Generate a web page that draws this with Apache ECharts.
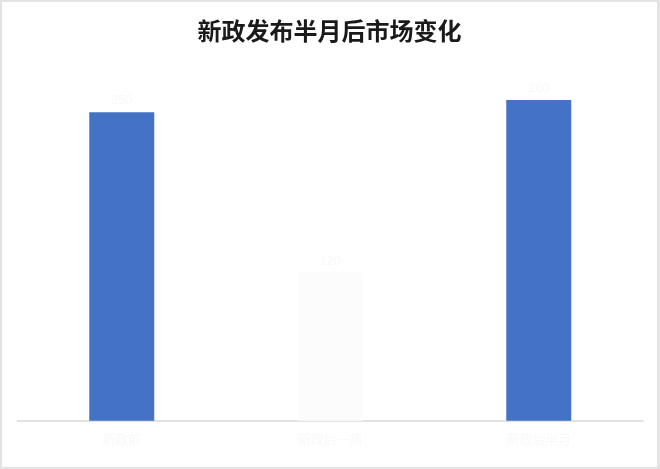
<!DOCTYPE html>
<html>
<head>
<meta charset="utf-8">
<script src="https://cdn.jsdelivr.net/npm/echarts@6/dist/echarts.min.js"></script>
<style>
	html, body { margin: 0; padding: 0; background: #fff; }
	#chart { width: 660px; height: 469px; box-sizing: border-box; border: 2px solid #e3e3e3; border-right-width: 3px; }
</style>
</head>
<body>
<div id="chart"></div>
<script>
	// 标签在原图中已被抹白，这里用浅色占位
	var categories = ['新政前', '新政后一周', '新政后半月'];
	var values = [250, 120, 260];
	var barColors = ['#4472C4', '#fcfcfc', '#4472C4'];

	var chart = echarts.init(document.getElementById('chart'));
	var barData = [];
	for (let i = 0; i < values.length; i++) {
		barData.push({
			value: values[i],
			itemStyle: { color: barColors[i] }
		});
	}

	var option = {
		animation: false,
		title: {
			text: '新政发布半月后市场变化',
			left: 'center',
			top: 12,
			textStyle: {
				fontFamily: 'Noto Sans CJK SC',
				fontSize: 24,
				fontWeight: 'bold',
				color: '#1a1a1a'
			}
		},
		grid: {
			left: 15.5,
			right: 14,
			top: 48.7,
			bottom: 46.3
		},
		xAxis: {
			type: 'category',
			data: categories,
			axisLine: { lineStyle: { color: '#d9d9d9', width: 1.5 } },
			axisTick: { show: false },
			axisLabel: {
				color: '#f8f8f8',
				fontSize: 13,
				margin: 12,
				fontFamily: 'Noto Sans CJK SC'
			}
		},
		yAxis: {
			type: 'value',
			min: 0,
			max: 300,
			show: false,
			splitLine: { show: false }
		},
		series: [{
			type: 'bar',
			data: barData,
			barWidth: 65,
			label: {
				show: true,
				position: 'top',
				color: '#f8f8f8',
				fontSize: 13
			}
		}]
	};
	chart.setOption(option);
</script>
</body>
</html>
